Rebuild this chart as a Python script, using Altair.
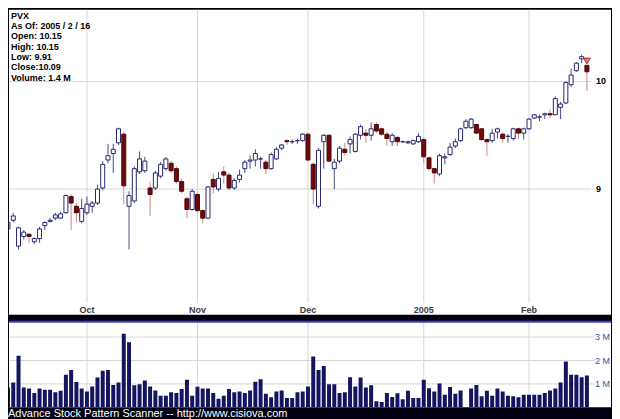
import altair as alt
import pandas as pd

# ---------------- data ----------------
opens = [8.63, 8.71, 8.47, 8.56, 8.58, 8.51, 8.54, 8.66, 8.70, 8.73,
         8.73, 8.78, 8.93, 8.84, 8.70, 8.78, 8.84, 8.87, 9.01, 9.27,
         9.33, 9.43, 9.51, 8.84, 8.89, 9.16, 9.17, 9.01, 9.01, 9.12,
         9.19, 9.24, 9.19, 9.07, 8.91, 8.81, 8.95, 8.80, 8.73, 9.09,
         9.00, 9.16, 9.13, 9.01, 9.09, 9.19, 9.26, 9.27, 9.28, 9.25,
         9.19, 9.28, 9.38, 9.45, 9.44, 9.45, 9.45, 9.51, 9.23, 8.84,
         9.44, 9.50, 9.19, 9.26, 9.37, 9.42, 9.35, 9.50, 9.52, 9.50,
         9.60, 9.56, 9.51, 9.44, 9.48, 9.44, 9.43, 9.42, 9.44, 9.46,
         9.29, 9.19, 9.14, 9.29, 9.32, 9.40, 9.45, 9.57, 9.57, 9.60,
         9.56, 9.46, 9.45, 9.53, 9.51, 9.49, 9.47, 9.56, 9.52, 9.56,
         9.66, 9.67, 9.69, 9.70, 9.69, 9.76, 9.80, 9.97, 10.10, 10.21,
         10.15]
highs = [8.71, 8.78, 8.65, 8.62, 8.59, 8.55, 8.65, 8.70, 8.73, 8.78,
         8.79, 8.95, 8.95, 8.87, 8.91, 8.93, 8.89, 9.04, 9.26, 9.42,
         9.42, 9.57, 9.53, 8.98, 9.21, 9.35, 9.30, 9.07, 9.17, 9.25,
         9.30, 9.26, 9.21, 9.10, 8.93, 9.00, 8.96, 8.81, 9.03, 9.15,
         9.16, 9.21, 9.15, 9.10, 9.18, 9.27, 9.31, 9.37, 9.30, 9.27,
         9.34, 9.39, 9.42, 9.46, 9.46, 9.47, 9.52, 9.52, 9.25, 9.38,
         9.51, 9.51, 9.28, 9.40, 9.43, 9.49, 9.52, 9.60, 9.56, 9.62,
         9.62, 9.57, 9.53, 9.52, 9.49, 9.45, 9.45, 9.46, 9.52, 9.48,
         9.30, 9.20, 9.33, 9.33, 9.43, 9.47, 9.57, 9.65, 9.66, 9.61,
         9.57, 9.47, 9.56, 9.57, 9.53, 9.51, 9.57, 9.57, 9.57, 9.66,
         9.70, 9.69, 9.71, 9.74, 9.86, 9.81, 10.00, 10.12, 10.18, 10.25,
         10.15]
lows = [8.62, 8.69, 8.44, 8.53, 8.50, 8.49, 8.50, 8.62, 8.69, 8.71,
        8.72, 8.77, 8.62, 8.69, 8.68, 8.76, 8.78, 8.85, 8.99, 9.24,
        9.15, 9.41, 8.86, 8.44, 8.87, 9.14, 9.15, 8.75, 8.99, 9.10,
        9.17, 9.15, 9.05, 8.96, 8.73, 8.80, 8.78, 8.68, 8.72, 8.96,
        8.98, 9.05, 8.99, 8.99, 9.06, 9.15, 9.19, 9.21, 9.19, 9.14,
        9.18, 9.27, 9.36, 9.41, 9.42, 9.42, 9.44, 9.26, 8.86, 8.82,
        9.19, 9.25, 9.00, 9.24, 9.31, 9.33, 9.34, 9.46, 9.43, 9.45,
        9.52, 9.49, 9.40, 9.40, 9.40, 9.43, 9.42, 9.41, 9.43, 9.24,
        9.17, 9.05, 9.12, 9.23, 9.31, 9.38, 9.44, 9.56, 9.56, 9.51,
        9.45, 9.31, 9.43, 9.47, 9.43, 9.43, 9.45, 9.47, 9.46, 9.55,
        9.65, 9.63, 9.65, 9.66, 9.69, 9.65, 9.79, 9.95, 10.09, 10.17,
        9.91]
closes = [8.69, 8.75, 8.64, 8.60, 8.56, 8.54, 8.63, 8.69, 8.71, 8.76,
          8.77, 8.94, 8.87, 8.78, 8.82, 8.86, 8.87, 9.00, 9.23, 9.31,
          9.37, 9.56, 9.03, 8.94, 9.19, 9.28, 9.26, 8.95, 9.15, 9.23,
          9.28, 9.17, 9.07, 8.98, 8.81, 8.98, 8.80, 8.73, 9.02, 9.02,
          9.10, 9.13, 9.01, 9.08, 9.13, 9.25, 9.27, 9.33, 9.28, 9.19,
          9.32, 9.37, 9.41, 9.44, 9.44, 9.45, 9.51, 9.27, 9.00, 9.36,
          9.50, 9.26, 9.25, 9.38, 9.34, 9.46, 9.51, 9.58, 9.50, 9.56,
          9.54, 9.51, 9.47, 9.50, 9.44, 9.44, 9.44, 9.45, 9.49, 9.30,
          9.19, 9.15, 9.31, 9.30, 9.39, 9.44, 9.56, 9.63, 9.65, 9.52,
          9.46, 9.44, 9.52, 9.56, 9.47, 9.49, 9.56, 9.52, 9.56, 9.65,
          9.69, 9.67, 9.70, 9.69, 9.84, 9.79, 9.99, 10.06, 10.17, 10.23,
          10.09]
volume_m = [0.85, 1.06, 2.20, 0.85, 0.80, 0.61, 0.80, 0.75, 0.75, 0.65,
            0.71, 1.39, 1.60, 1.08, 0.81, 0.68, 0.89, 1.28, 1.56, 1.60,
            0.96, 1.06, 3.14, 2.78, 0.94, 0.99, 1.15, 0.89, 0.72, 0.50,
            0.50, 0.64, 0.61, 0.78, 1.18, 0.50, 0.88, 0.81, 0.81, 0.61,
            0.37, 0.50, 0.78, 0.65, 0.68, 0.61, 0.72, 1.09, 1.20, 0.58,
            0.43, 0.68, 0.72, 0.40, 0.40, 0.64, 0.68, 0.89, 2.17, 1.60,
            1.77, 0.99, 0.99, 0.61, 0.64, 1.29, 0.89, 1.28, 0.85, 0.94,
            0.26, 0.23, 0.61, 0.44, 0.60, 0.35, 0.71, 0.40, 0.40, 1.18,
            0.82, 0.68, 1.02, 0.54, 0.87, 0.58, 0.72, 0.00, 0.80, 0.96,
            0.47, 0.71, 0.50, 0.80, 0.68, 0.50, 0.47, 0.43, 0.54, 0.54,
            0.54, 0.54, 0.61, 0.72, 0.80, 1.06, 1.96, 1.39, 1.39, 1.29,
            1.36]

month_days = [15, 36, 57, 79, 99]
month_labels = ["Oct", "Nov", "Dec", "2005", "Feb"]
price_ticks = [9, 10]
price_tick_labels = ["9", "10"]
vol_ticks = [1, 2, 3]
vol_tick_labels = ["1 M", "2 M", "3 M"]
signal_days = [110]
signal_prices = [10.19]
info_lines = ["PVX", "As Of: 2005 / 2 / 16", "Open: 10.15", "High: 10.15",
              "Low: 9.91", "Close:10.09", "Volume: 1.4 M"]
footer = "Advance Stock Pattern Scanner -- http://www.cisiova.com"

# ---------------- frames ----------------
df = pd.DataFrame({"day": list(range(len(opens))), "open": opens, "high": highs,
                   "low": lows, "close": closes, "vol": volume_m})
months = pd.DataFrame({"day": month_days, "label": month_labels})
pticks = pd.DataFrame({"p": price_ticks, "label": price_tick_labels})
vticks = pd.DataFrame({"v": vol_ticks, "label": vol_tick_labels})
signals = pd.DataFrame({"day": signal_days, "price": signal_prices})
info = pd.DataFrame({"txt": ["\n".join(info_lines)]})
one = pd.DataFrame({"k": [0]})

W, HP, HV = 604, 306, 86
FONT = "Liberation Sans"
xs = alt.Scale(domain=[0.19, 114.58], nice=False, zero=False, padding=0)
ys = alt.Scale(domain=[7.833, 10.667], nice=False, zero=False, padding=0)
vs = alt.Scale(domain=[0, 3.66], nice=False, zero=False, padding=0)
UP = "datum.close >= datum.open"

X = alt.X("day:Q", scale=xs, axis=None)

vgrid = alt.Chart(months).mark_rule(color="#d6d6d6").encode(
    x=X, y=alt.value(0), y2=alt.value(HP - 12))
hgrid = alt.Chart(pticks).mark_rule(color="#d6d6d6").encode(
    y=alt.Y("p:Q", scale=ys, axis=None), x=alt.value(0), x2=alt.value(584))
wick = alt.Chart(df).mark_rule(strokeWidth=1, clip=True).encode(
    x=X, y=alt.Y("low:Q", scale=ys, axis=None), y2="high:Q",
    color=alt.condition(UP, alt.value("#4a4a84"), alt.value("#c48c8c")))
body = alt.Chart(df).mark_bar(size=4, strokeWidth=1, clip=True).encode(
    x=X, y=alt.Y("open:Q", scale=ys, axis=None), y2="close:Q",
    fill=alt.condition(UP, alt.value("white"), alt.value("#6e0a0a")),
    stroke=alt.condition(UP, alt.value("#262670"), alt.value("#4a0606")))
sig = alt.Chart(signals).mark_point(shape="triangle-down", filled=True, size=45,
                                     fill="#f07878", stroke="#a03030", strokeWidth=1,
                                     opacity=1).encode(
    x=X, y=alt.Y("price:Q", scale=ys, axis=None))
mlab = alt.Chart(months).mark_text(font=FONT, fontSize=9, fontWeight="bold",
                                    color="#3a3a3a", baseline="middle").encode(
    x=X, y=alt.value(HP - 5), text="label:N")
plab = alt.Chart(pticks).mark_text(font=FONT, fontSize=9, fontWeight="bold",
                                    color="black", align="left", baseline="middle").encode(
    y=alt.Y("p:Q", scale=ys, axis=None), x=alt.value(589), text="label:N")
itxt = alt.Chart(info).mark_text(font=FONT, fontSize=9, fontWeight="bold", color="black",
                                  align="left", baseline="top", lineBreak="\n",
                                  lineHeight=10.4).encode(
    x=alt.value(2), y=alt.value(2), text="txt:N")

price = alt.layer(vgrid, hgrid, wick, body, sig, mlab, plab, itxt).properties(
    width=W, height=HP)

vgrid2 = alt.Chart(months).mark_rule(color="#d6d6d6").encode(
    x=X, y=alt.value(0), y2=alt.value(HV))
hgrid2 = alt.Chart(vticks).mark_rule(color="#d6d6d6").encode(
    y=alt.Y("v:Q", scale=vs, axis=None), x=alt.value(0), x2=alt.value(587))
vbars = alt.Chart(df).mark_bar(size=4, color="#141460", clip=True).encode(
    x=X, y=alt.Y("vol:Q", scale=vs, axis=None))
vlab = alt.Chart(vticks).mark_text(font=FONT, fontSize=9, color="#4a4aa0",
                                    align="right", baseline="middle").encode(
    y=alt.Y("v:Q", scale=vs, axis=None), x=alt.value(603), text="label:N")
topline = alt.Chart(one).mark_rule(color="#4040b8", strokeWidth=2).encode(
    x=alt.value(0), x2=alt.value(W), y=alt.value(0))

volume = alt.layer(vgrid2, hgrid2, vbars, vlab, topline).properties(width=W, height=HV)

chart = alt.vconcat(price, volume, spacing=6).properties(
    background="#000010",
    padding={"left": 0, "top": 0, "right": 0, "bottom": 0},
    title=alt.TitleParams(footer, orient="bottom", anchor="start", color="white",
                          font=FONT, fontSize=11, fontWeight="normal", offset=0),
).configure_view(stroke=None, fill="white")

chart.save("out.html", embed_options={"renderer": "svg", "actions": False})
